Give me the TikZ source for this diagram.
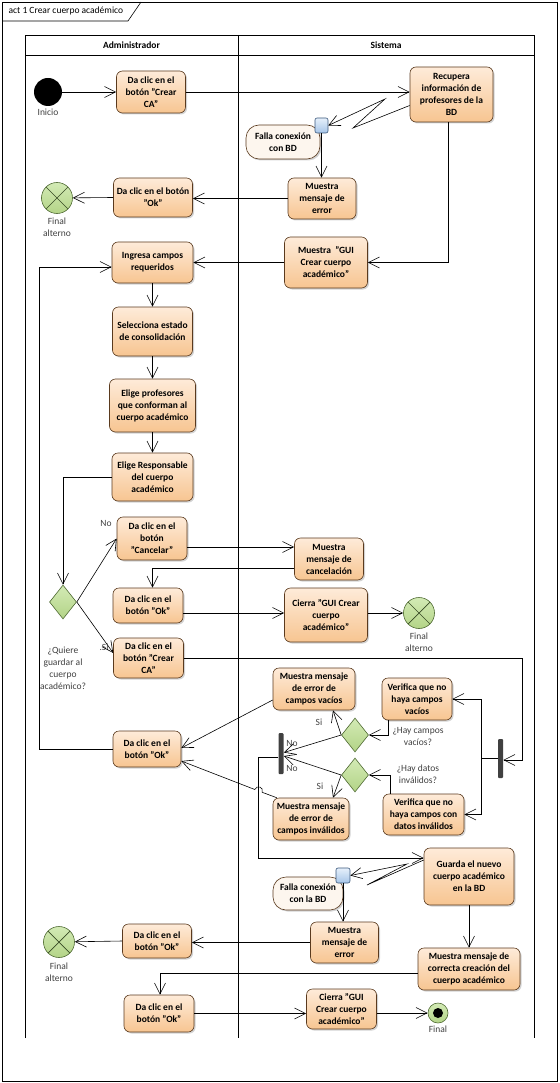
\documentclass[tikz,border=0pt]{standalone}
\usepackage{fontspec}
\setmainfont{Carlito}
\usetikzlibrary{arrows.meta,shapes.geometric,shadows}

\definecolor{acttop}{HTML}{FEEBD9}
\definecolor{actbot}{HTML}{F7C591}
\definecolor{actline}{HTML}{5A3A1E}
\definecolor{evfill}{HTML}{FDF6EE}
\definecolor{greentop}{HTML}{D3EAB5}
\definecolor{greenfill}{HTML}{B3D487}
\definecolor{greenline}{HTML}{4F6A33}
\definecolor{pintop}{HTML}{E6F0FB}
\definecolor{pinbot}{HTML}{A6C5E8}
\definecolor{pinline}{HTML}{3B587C}
\definecolor{barfill}{HTML}{404040}
\definecolor{lblgray}{HTML}{404040}

\newcommand\actfont{\fontsize{9.5}{12}\selectfont\bfseries}
\newcommand\lblfont{\fontsize{9.5}{12}\selectfont}

\begin{document}
\begin{tikzpicture}[x=1pt, y=-1pt, line width=0.6pt,
    >={Straight Barb[length=11pt,width=11pt]},
    act/.style={draw=actline, rounded corners=6pt, top color=acttop, bottom color=actbot,
      align=center, font=\actfont, inner sep=1pt,
      drop shadow={shadow xshift=1.5pt, shadow yshift=-1.5pt, opacity=0.35}},
    event/.style={draw=actline, rounded corners=13pt, fill=evfill, align=center,
      font=\actfont, inner sep=1pt,
      drop shadow={shadow xshift=1.5pt, shadow yshift=-1.5pt, opacity=0.35}},
    pin/.style={draw=pinline, rounded corners=2pt, top color=pintop, bottom color=pinbot,
      minimum width=13pt, minimum height=15pt, inner sep=0pt},
    init/.style={circle, fill=black, minimum size=28pt, inner sep=0pt},
    finalt/.style={circle, draw=greenline, top color=greentop, bottom color=greenfill,
      minimum size=31pt, inner sep=0pt,
      path picture={\draw [line width=0.7pt, greenline!70!black]
        (path picture bounding box.south west) -- (path picture bounding box.north east)
        (path picture bounding box.north west) -- (path picture bounding box.south east);}},
    final/.style={circle, draw=greenline, top color=greentop, bottom color=greenfill,
      minimum size=20pt, inner sep=0pt,
      path picture={\fill [black] (path picture bounding box.center) circle (5pt);}},
    decision/.style={diamond, draw=greenline, top color=greentop, bottom color=greenfill,
      minimum width=27pt, minimum height=34pt, inner sep=0pt},
    bar/.style={rectangle, fill=barfill, rounded corners=1pt, minimum width=5pt, inner sep=0pt},
    lbl/.style={align=center, font=\lblfont, text=lblgray, inner sep=1pt},
    header/.style={font=\actfont}]
  \useasboundingbox (0,0) rectangle (559,1083);

  % frame and swimlanes
  \draw (2,2) rectangle (557,1081);
  \draw (2,21) -- (128,21) -- (141,2);
  \node [anchor=west, font=\lblfont] (title) at (5,11) {act 1 Crear cuerpo académico};
  \draw (25,1038) -- (25,35) -- (534,35) -- (534,1038);
  \draw (25,55) -- (534,55);
  \draw (238,35) -- (238,1038);
  \node [header] (laneAdmin) at (131.5,45) {Administrador};
  \node [header] (laneSis) at (386,45) {Sistema};

  % nodes
  \node [init] (ini) at (48,92) {};
  \node [lbl] (iniLbl) at (48,112) {Inicio};
  \node [act, minimum width=69pt, minimum height=42pt] (crearCA) at (151,92) {Da clic en el\\botón "Crear\\CA"};
  \node [act, minimum width=83pt, minimum height=55pt] (recupera) at (451.5,94.5) {Recupera\\información de\\profesores de la\\BD};
  \node [event, minimum width=74pt, minimum height=34pt] (falla1) at (283,142) {Falla conexión\\con BD};
  \node [pin] (pin1) at (321.5,125.5) {};
  \node [act, minimum width=68pt, minimum height=41pt] (error1) at (322,198.5) {Muestra\\mensaje de\\error};
  \node [act, minimum width=79pt, minimum height=39pt] (ok1) at (153,197.5) {Da clic en el botón\\"Ok"};
  \node [finalt] (fin1) at (57,198) {};
  \node [lbl] (fin1Lbl) at (57,227) {Final\\alterno};
  \node [act, minimum width=83pt, minimum height=51pt] (gui1) at (326,262.5) {Muestra \ "GUI\\Crear cuerpo\\académico"};
  \node [act, minimum width=81pt, minimum height=41pt] (ingresa) at (152.5,262.5) {Ingresa campos\\requeridos};
  \node [act, minimum width=80pt, minimum height=49pt] (selecciona) at (152.5,331.5) {Selecciona estado\\de consolidación};
  \node [act, minimum width=86pt, minimum height=53pt] (eligeProf) at (152.5,405.5) {Elige profesores\\que conforman al\\cuerpo académico};
  \node [act, minimum width=81pt, minimum height=48pt] (eligeResp) at (152.5,477) {Elige Responsable\\del cuerpo\\académico};
  \node [decision] (guardar) at (63,602) {};
  \node [lbl] (guardarLbl) at (63,668) {¿Quiere\\guardar al\\cuerpo\\académico?};
  \node [act, minimum width=70pt, minimum height=43pt] (cancelar) at (152,538.5) {Da clic en el\\botón\\"Cancelar"};
  \node [act, minimum width=69pt, minimum height=42pt] (msgCancel) at (329,559) {Muestra\\mensaje de\\cancelación};
  \node [act, minimum width=70pt, minimum height=35pt] (ok3) at (148,605.5) {Da clic en el\\botón "Ok"};
  \node [act, minimum width=83pt, minimum height=54pt] (cierra1) at (326,615) {Cierra "GUI Crear\\cuerpo\\académico"};
  \node [finalt] (fin2) at (419,613) {};
  \node [lbl] (fin2Lbl) at (419,642) {Final\\alterno};
  \node [act, minimum width=70pt, minimum height=40pt] (crearCA2) at (148.5,658) {Da clic en el\\botón "Crear\\CA"};
  \node [lbl] (noLbl) at (106,523) {No};
  \node [lbl] (siLbl) at (104,647) {.Si};

  \node [bar, minimum height=39pt] (fork) at (500.5,758.5) {};
  \node [act, minimum width=70pt, minimum height=42pt] (verVac) at (417,699) {Verifica que no\\haya campos\\vacíos};
  \node [act, minimum width=81pt, minimum height=41pt] (verInv) at (423.5,814.5) {Verifica que no\\haya campos con\\datos inválidos};
  \node [decision] (dec2) at (355,735) {};
  \node [decision] (dec3) at (355,775) {};
  \node [lbl] (dec2Lbl) at (418,736) {¿Hay campos\\vacíos?};
  \node [lbl] (dec3Lbl) at (418,774) {¿Hay datos\\inválidos?};
  \node [act, minimum width=82pt, minimum height=42pt] (errVac) at (314,689) {Muestra mensaje\\de error de\\campos vacíos};
  \node [act, minimum width=76pt, minimum height=42pt] (errInv) at (311,819) {Muestra mensaje\\de error de\\campos inválidos};
  \node [bar, minimum height=41pt] (join) at (281,753.5) {};
  \node [lbl] (no2Lbl) at (292,743) {No};
  \node [lbl] (no3Lbl) at (292,768) {No};
  \node [lbl] (si2Lbl) at (319,722) {Si};
  \node [lbl] (si3Lbl) at (320,786) {Si};
  \node [act, minimum width=68pt, minimum height=36pt] (ok2) at (147,749) {Da clic en el\\botón "Ok"};

  \node [act, minimum width=90pt, minimum height=57pt] (guarda) at (469,876.5) {Guarda el nuevo\\cuerpo académico\\en la BD};
  \node [event, minimum width=70pt, minimum height=33pt] (falla2) at (308,893.5) {Falla conexión\\con la BD};
  \node [pin, minimum width=14pt] (pin2) at (343,875.5) {};
  \node [act, minimum width=68pt, minimum height=41pt] (error2) at (344.5,942.5) {Muestra\\mensaje de\\error};
  \node [act, minimum width=69pt, minimum height=34pt] (ok4) at (157,941) {Da clic en el\\botón "Ok"};
  \node [finalt] (fin3) at (59,942) {};
  \node [lbl] (fin3Lbl) at (59,972) {Final\\alterno};
  \node [act, minimum width=102pt, minimum height=42pt] (correcta) at (469,969) {Muestra mensaje de\\correcta creación del\\cuerpo académico};
  \node [act, minimum width=70pt, minimum height=37pt] (ok5) at (159,1013.5) {Da clic en el\\botón "Ok"};
  \node [act, minimum width=70pt, minimum height=40pt] (cierra2) at (341.5,1009) {Cierra "GUI\\Crear cuerpo\\académico"};
  \node [final] (fin) at (438,1013) {};
  \node [lbl] (finLbl) at (438,1029) {Final};

  % flows
  \draw [->] (ini) -- (crearCA);
  \draw [->] (crearCA.east) -- (crearCA.east -| recupera.west);
  \draw [->] ([yshift=-11pt]recupera.west) -- (353,128) -- (385,99) -- (pin1.east);
  \draw [->] (pin1.south) -- (pin1.south |- error1.north);
  \draw [->] (error1.west) -- (error1.west -| ok1.east);
  \draw [->] (ok1.west) -- (fin1);
  \draw [->] ([xshift=-3pt]recupera.south) |- (gui1.east);
  \draw [->] (gui1.west) -- (ingresa.east);
  \draw [->] (ingresa) -- (selecciona);
  \draw [->] (selecciona) -- (eligeProf);
  \draw [->] (eligeProf) -- (eligeResp);
  \draw [->] (eligeResp.west) -| (guardar.north);
  \draw [->] (guardar.east) -- (cancelar.west);
  \draw [->] (guardar.east) -- ([yshift=5pt]crearCA2.west);
  \draw [->] ([yshift=-8.5pt]cancelar.east) -- ([yshift=-8.5pt]cancelar.east -| msgCancel.west);
  \draw [->] ([yshift=-9pt]msgCancel.west) -| ([xshift=4.5pt]ok3.north);
  \draw [->] ([yshift=-7.5pt]ok3.east) -- ([yshift=-7.5pt]ok3.east -| cierra1.west);
  \draw [->] (cierra1.east |- fin2) -- (fin2);
  \coordinate (rightRail) at (522,0);
  \draw [->] (crearCA2.east) -- (crearCA2.east -| rightRail) |- ([yshift=-1.5pt]fork.east);
  \draw [->] (fork.west) -- ++(-16,0) |- (verVac.east);
  \draw [->] (fork.west) -- ++(-16,0) |- (verInv.east);
  \draw [->] ([xshift=-28.5pt]verVac.south) |- (dec2.east);
  \draw [->] (dec2.west) -- ([xshift=19pt]errVac.south);
  \draw [->] (dec2.west) -- ([yshift=1pt]join.east);
  \draw [->] ([xshift=-33.5pt]verInv.north) |- (dec3.east);
  \draw [->] (dec3.west) -- ([yshift=-2.5pt]join.east);
  \draw [->] (dec3.west) -- ([xshift=22pt]errInv.north);
  \draw [->] ([yshift=-3.5pt]join.west) -- ++(-20,0) |- ([yshift=18.5pt]guarda.west);
  \draw [->] ([yshift=-11pt]errVac.west) -- ([yshift=1pt]ok2.east);
  \draw [->] ([xshift=4pt]errInv.north west) -- (262.2,792.3) .. controls +(2,-5.1) and +(2,-5.1) .. (254.8,789.5) -- ([yshift=-12pt]ok2.east);
  \draw [->] (ok2.west) -- ++(-73,0) |- ([yshift=-4.5pt]ingresa.west);
  \draw [->] ([yshift=16.5pt]guarda.west) -- (367,885) -- (407,864) -- (pin2.east);
  \draw [->] (pin2.south) -- (pin2.south |- error2.north);
  \draw [->] (error2.west) -- (error2.west -| ok4.east);
  \draw [->] (ok4.west) -- (fin3);
  \draw [->] (guarda.south) -- (correcta.north);
  \draw [->] ([yshift=-4pt]correcta.west) -| ([xshift=1pt]ok5.north);
  \draw [->] (ok5.east) -- (ok5.east -| cierra2.west);
  \draw [->] (cierra2.east |- fin) -- (fin);
\end{tikzpicture}
\end{document}
